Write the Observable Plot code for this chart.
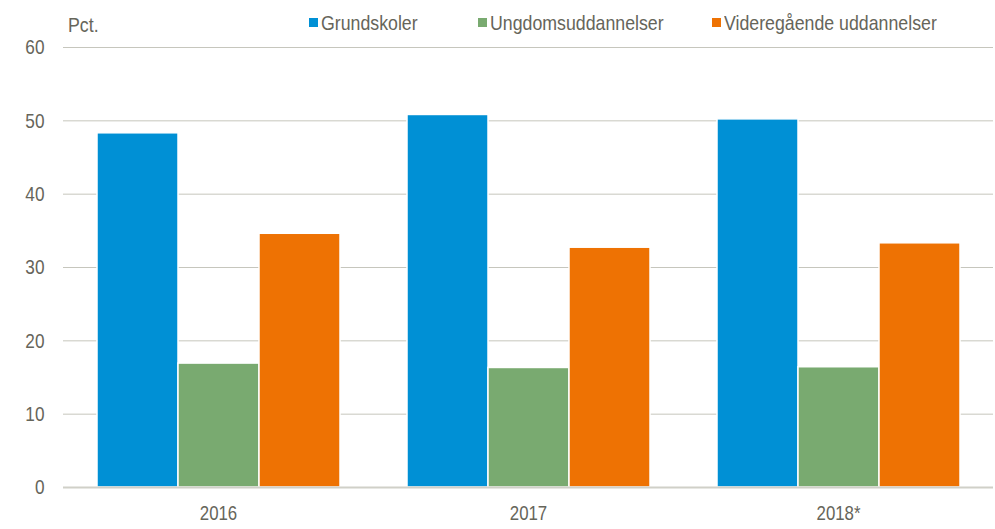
<!DOCTYPE html>
<html>
<head>
<meta charset="utf-8">
<script src="https://cdn.jsdelivr.net/npm/d3@7"></script>
<script src="https://cdn.jsdelivr.net/npm/@observablehq/plot@0.6"></script>
<style>
  html, body { margin: 0; padding: 0; background: #fff; }
  #wrap { position: relative; width: 995px; height: 529px; font-family: "Liberation Sans", Arial, sans-serif; color: #66655a; }
  .lab { position: absolute; font-size: 21px; white-space: nowrap; line-height: 1; transform: scaleX(0.845); transform-origin: 0 0; }
  .sw { position: absolute; width: 9px; height: 9px; }
</style>
</head>
<body>
<div id="wrap"></div>
<script>
const years = ["2016", "2017", "2018*"];
const seriesNames = ["Grundskoler", "Ungdomsuddannelser", "Videregående uddannelser"];
const grundskoler = [48.3, 50.8, 50.2];
const ungdomsuddannelser = [16.9, 16.3, 16.4];
const videregaaende = [34.6, 32.7, 33.3];
const colors = ["#0090d5", "#79aa70", "#ee7203"];
const yTicks = [0, 10, 20, 30, 40, 50, 60];

const seriesValues = [grundskoler, ungdomsuddannelser, videregaaende];
const data = [];
years.forEach((yr, i) => seriesNames.forEach((s, j) => data.push({year: yr, series: s, value: seriesValues[j][i]})));

const textColor = "#66655a";
const font = "'Liberation Sans', Arial, sans-serif";

const chart = Plot.plot({
  width: 995,
  height: 529,
  marginTop: 47,
  marginBottom: 42,
  marginLeft: 63,
  marginRight: 2,
  style: {fontFamily: font, fontSize: "20.5px", color: textColor, background: "#fff"},
  fx: {domain: years, padding: 0, label: null, axis: "bottom", tickSize: 0, tickPadding: 18},
  x: {domain: seriesNames, paddingInner: 0, paddingOuter: 0.41, axis: null},
  y: {domain: [0, 60], ticks: yTicks, label: null},
  color: {domain: seriesNames, range: colors},
  marks: [
    Plot.ruleY(yTicks.filter(d => d > 0), {stroke: "#c6c6bd", strokeWidth: 1}),
    Plot.barY(data, {fx: "year", x: "series", y: "value", fill: "series", stroke: "#fff", strokeWidth: 1.5}),
    Plot.ruleY([0], {stroke: "#d0d0c8", strokeWidth: 2}),
    Plot.axisY({ticks: yTicks, tickSize: 0, tickPadding: 19, label: null, fill: textColor, fontSize: 21})
  ]
});
const wrap = document.getElementById("wrap");
wrap.appendChild(chart);

// condense axis text to mimic a narrow typeface
chart.querySelectorAll("text").forEach(t => {
  const len = t.getComputedTextLength();
  if (len > 0) {
    t.setAttribute("textLength", (len * 0.82).toFixed(2));
    t.setAttribute("lengthAdjust", "spacingAndGlyphs");
  }
});

function addLabel(text, left, top) {
  const d = document.createElement("div");
  d.className = "lab"; d.textContent = text;
  d.style.left = left + "px"; d.style.top = top + "px";
  wrap.appendChild(d);
}
addLabel("Pct.", 68, 14);
const legendX = [309, 478, 712];
seriesNames.forEach((s, i) => {
  const sw = document.createElement("div");
  sw.className = "sw"; sw.style.background = colors[i];
  sw.style.left = legendX[i] + "px"; sw.style.top = "18px";
  wrap.appendChild(sw);
  addLabel(s, legendX[i] + 12, 12);
});
</script>
</body>
</html>
